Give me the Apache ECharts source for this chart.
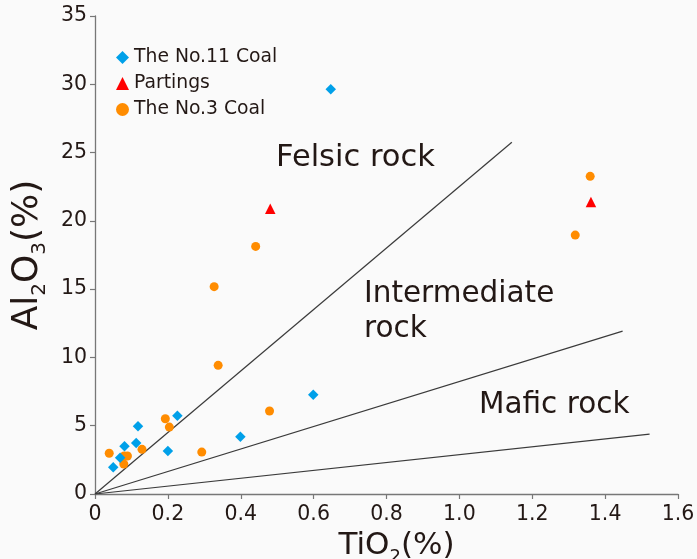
<!DOCTYPE html>
<html>
<head>
<meta charset="utf-8">
<script src="https://cdn.jsdelivr.net/npm/echarts@6/dist/echarts.min.js"></script>
<style>html,body{margin:0;padding:0;background:#fafafa;}#c{width:697px;height:559px;}</style>
</head>
<body>
<div id="c"></div>
<script>
// Data: [TiO2 %, Al2O3 %]
const no11Coal = [
  [0.050, 1.95], [0.069, 2.66], [0.081, 3.49], [0.113, 3.73], [0.118, 4.96],
  [0.226, 5.73], [0.200, 3.15], [0.399, 4.19], [0.599, 7.27], [0.647, 29.63]
];
const partings = [
  [0.481, 20.89], [1.361, 21.38]
];
const no3Coal = [
  [0.039, 2.98], [0.080, 2.78], [0.089, 2.78], [0.079, 2.20], [0.129, 3.27],
  [0.193, 5.51], [0.204, 4.90], [0.293, 3.07], [0.479, 6.08], [0.338, 9.42],
  [0.327, 15.18], [0.441, 18.13], [1.359, 23.26], [1.318, 18.96]
];
// Boundary lines of the rock fields (from origin)
const felsicBoundary = [[0, 0], [1.144, 25.75]];
const intermediateBoundary = [[0, 0], [1.448, 11.93]];
const maficBoundary = [[0, 0], [1.522, 4.39]];

const seriesNames = ['The No.11 Coal', 'Partings', 'The No.3 Coal'];
const fieldLabels = ['Felsic rock', 'Intermediate\nrock', 'Mafic rock'];

const FONT = 'DejaVu Sans';
const TXT = '#231815';

const chart = echarts.init(document.getElementById('c'));

function boundary(data) {
  return {
    type: 'line', data: data, symbol: 'none', silent: true,
    lineStyle: { color: '#3a3a3a', width: 1.2 }, z: 1, legendHoverLink: false
  };
}

chart.setOption({
  backgroundColor: '#fafafa',
  animation: false,
  grid: { left: 95, right: 19, top: 16, bottom: 65, containLabel: false, outerBoundsMode: 'none' },
  legend: {
    data: seriesNames,
    orient: 'vertical',
    left: 111, top: 43,
    itemWidth: 13, itemHeight: 13,
    itemGap: 7, itemTextGap: 10,
    textStyle: { fontFamily: FONT, fontSize: 18.8, lineHeight: 19, color: TXT }
  },
  xAxis: {
    type: 'value', min: 0, max: 1.6, interval: 0.2,
    name: '{n|TiO}{s|2}{n|(%)}',
    nameLocation: 'middle', nameGap: 32,
    nameTextStyle: {
      padding: [0, 0, 0, 20],
      rich: {
        n: { fontFamily: FONT, fontSize: 31, lineHeight: 40, color: TXT },
        s: { fontFamily: FONT, fontSize: 18, lineHeight: 18, color: TXT, verticalAlign: 'bottom' }
      }
    },
    axisLine: { lineStyle: { color: '#777', width: 1.3 } },
    axisTick: { length: 5, lineStyle: { color: '#777', width: 1.2 } },
    axisLabel: {
      fontFamily: FONT, fontSize: 20.5, color: TXT, margin: 10,
      formatter: v => v === 0 ? '0' : v.toFixed(1)
    },
    splitLine: { show: false }
  },
  yAxis: {
    type: 'value', min: 0, max: 35, interval: 5,
    name: '{n|Al}{s|2}{n|O}{s|3}{n|(%)}',
    nameLocation: 'middle', nameGap: 38, nameRotate: 90,
    nameTextStyle: {
      rich: {
        n: { fontFamily: FONT, fontSize: 36, lineHeight: 44, color: TXT },
        s: { fontFamily: FONT, fontSize: 20, lineHeight: 20, color: TXT, verticalAlign: 'bottom' }
      }
    },
    axisLine: { show: true, lineStyle: { color: '#777', width: 1.3 } },
    axisTick: { show: true, length: 5, lineStyle: { color: '#777', width: 1.2 } },
    axisLabel: { fontFamily: FONT, fontSize: 20.5, color: TXT, margin: 8 },
    splitLine: { show: false }
  },
  graphic: [
    { type: 'text', x: 276, y: 158, silent: true,
      style: { text: fieldLabels[0], fontFamily: FONT, fontSize: 30.5, fill: TXT, verticalAlign: 'middle' } },
    { type: 'text', x: 364, y: 312, silent: true,
      style: { text: fieldLabels[1], fontFamily: FONT, fontSize: 29.5, lineHeight: 35, fill: TXT, verticalAlign: 'middle' } },
    { type: 'text', x: 479, y: 405, silent: true,
      style: { text: fieldLabels[2], fontFamily: FONT, fontSize: 29.5, fill: TXT, verticalAlign: 'middle' } }
  ],
  series: [
    boundary(felsicBoundary),
    boundary(intermediateBoundary),
    boundary(maficBoundary),
    { name: seriesNames[0], type: 'scatter', data: no11Coal, symbol: 'diamond', symbolSize: 10.5,
      itemStyle: { color: '#00a0e9', opacity: 1 }, z: 3 },
    { name: seriesNames[1], type: 'scatter', data: partings, symbol: 'triangle', symbolSize: 10.5,
      itemStyle: { color: '#ff0000', opacity: 1 }, z: 3 },
    { name: seriesNames[2], type: 'scatter', data: no3Coal, symbol: 'circle', symbolSize: 9,
      itemStyle: { color: '#ff8c00', opacity: 1 }, z: 2 }
  ]
});
</script>
</body>
</html>
